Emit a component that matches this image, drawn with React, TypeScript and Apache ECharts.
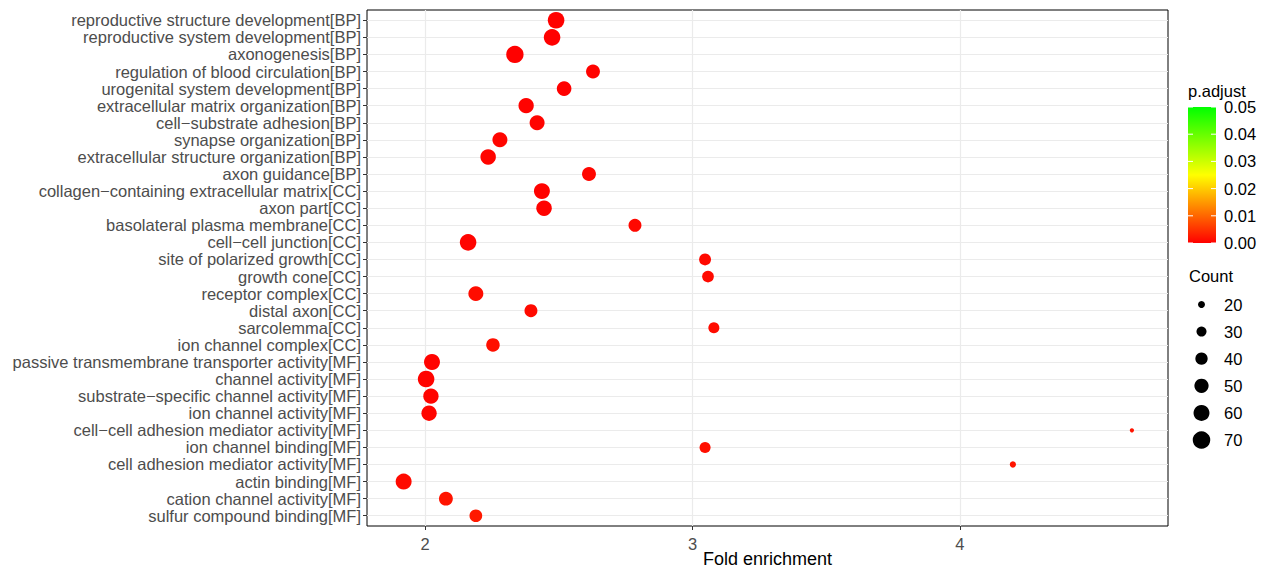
import React, { useEffect, useRef } from 'react';
import * as echarts from 'echarts';

const categories = [
  'reproductive structure development[BP]',
  'reproductive system development[BP]',
  'axonogenesis[BP]',
  'regulation of blood circulation[BP]',
  'urogenital system development[BP]',
  'extracellular matrix organization[BP]',
  'cell\u2212substrate adhesion[BP]',
  'synapse organization[BP]',
  'extracellular structure organization[BP]',
  'axon guidance[BP]',
  'collagen\u2212containing extracellular matrix[CC]',
  'axon part[CC]',
  'basolateral plasma membrane[CC]',
  'cell\u2212cell junction[CC]',
  'site of polarized growth[CC]',
  'growth cone[CC]',
  'receptor complex[CC]',
  'distal axon[CC]',
  'sarcolemma[CC]',
  'ion channel complex[CC]',
  'passive transmembrane transporter activity[MF]',
  'channel activity[MF]',
  'substrate\u2212specific channel activity[MF]',
  'ion channel activity[MF]',
  'cell\u2212cell adhesion mediator activity[MF]',
  'ion channel binding[MF]',
  'cell adhesion mediator activity[MF]',
  'actin binding[MF]',
  'cation channel activity[MF]',
  'sulfur compound binding[MF]',
];

const foldEnrichment = [
  2.49, 2.475, 2.336, 2.628, 2.52, 2.378, 2.419, 2.28, 2.236, 2.613,
  2.437, 2.445, 2.785, 2.161, 3.047, 3.058, 2.19, 2.396, 3.08, 2.254,
  2.026, 2.004, 2.022, 2.015, 4.643, 3.047, 4.198, 1.92, 2.078, 2.19,
];

const counts = [
  64, 64, 69, 48, 52, 56, 54, 54, 57, 48,
  60, 57, 43, 64, 38, 37, 54, 43, 34, 46,
  60, 64, 56, 56, 14, 34, 18, 60, 48, 42,
];

const pAdjust = [
  0.0001, 0.0001, 0.0001, 0.0002, 0.0001, 0.0003, 0.0004, 0.0005, 0.0004, 0.0006,
  0.0002, 0.0003, 0.0008, 0.0004, 0.0009, 0.0010, 0.0012, 0.0010, 0.0012, 0.0015,
  0.0003, 0.0004, 0.0004, 0.0005, 0.0020, 0.0015, 0.0020, 0.0010, 0.0020, 0.0025,
];

const xTicks = [2, 3, 4];
const pAdjustBreaks = [0, 0.01, 0.02, 0.03, 0.04, 0.05];
const countBreaks = [20, 30, 40, 50, 60, 70];

const FONT = '"Liberation Sans", Arial, Helvetica, sans-serif';
const TXT = 16.5;
const sizeOf = (c: number) => Math.sqrt(Math.max(4, 5.15 * c - 54));

export default function App() {
  const ref = useRef<HTMLDivElement>(null);

  useEffect(() => {
    if (!ref.current) return;
    document.body.style.margin = '0';
    const chart = echarts.init(ref.current, undefined, { renderer: 'svg' });

    const data = categories.map((_, i) => [foldEnrichment[i], i + 1, counts[i], pAdjust[i]]);

    // colorbar geometry
    const cbX = 1188, cbTop = 107, cbW = 28, cbH = 136;
    const pMax = pAdjustBreaks[pAdjustBreaks.length - 1];
    const cbY = (v: number) => cbTop + cbH - (v / pMax) * cbH;

    const graphics: any[] = [
      {
        type: 'text', x: cbX, y: 91,
        style: { text: 'p.adjust', font: `${TXT}px ${FONT}`, fill: '#000', verticalAlign: 'middle' },
      },
      {
        type: 'rect', shape: { x: cbX, y: cbTop, width: cbW, height: cbH },
        style: {
          fill: new echarts.graphic.LinearGradient(0, 0, 0, 1, [
            { offset: 0, color: '#00ff00' },
            { offset: 0.5, color: '#ffff00' },
            { offset: 1, color: '#ff0000' },
          ]),
        },
      },
    ];
    pAdjustBreaks.forEach((v) => {
      const y = cbY(v);
      graphics.push({
        type: 'line', shape: { x1: cbX, y1: y, x2: cbX + 5, y2: y },
        style: { stroke: '#fff', lineWidth: 1 },
      });
      graphics.push({
        type: 'line', shape: { x1: cbX + cbW - 5, y1: y, x2: cbX + cbW, y2: y },
        style: { stroke: '#fff', lineWidth: 1 },
      });
      graphics.push({
        type: 'text', x: 1224, y,
        style: { text: v.toFixed(2), font: `${TXT}px ${FONT}`, fill: '#000', verticalAlign: 'middle', align: 'left' },
      });
    });
    graphics.push({
      type: 'text', x: 1189, y: 276,
      style: { text: 'Count', font: `${TXT}px ${FONT}`, fill: '#000', verticalAlign: 'middle' },
    });
    countBreaks.forEach((c, i) => {
      const y = 304.5 + i * 27.1;
      graphics.push({
        type: 'circle', shape: { cx: 1201.5, cy: y, r: sizeOf(c) / 2 },
        style: { fill: '#000' },
      });
      graphics.push({
        type: 'text', x: 1224, y,
        style: { text: String(c), font: `${TXT}px ${FONT}`, fill: '#000', verticalAlign: 'middle', align: 'left' },
      });
    });

    chart.setOption({
      animation: false,
      backgroundColor: '#fff',
      textStyle: { fontFamily: FONT },
      grid: {
        left: 367, width: 801, top: 10, height: 516,
        outerBoundsMode: 'none',
        containLabel: false,
        show: true, borderColor: '#000', borderWidth: 1, backgroundColor: 'transparent',
      },
      xAxis: {
        type: 'value',
        min: 1.783,
        max: 4.778,
        name: 'Fold enrichment',
        nameLocation: 'middle',
        nameGap: 24,
        nameMoveOverlap: false,
        nameTextStyle: { fontSize: 18, color: '#000', fontFamily: FONT, verticalAlign: 'top' },
        axisLine: { show: false },
        axisTick: { show: true, length: 4, customValues: xTicks, lineStyle: { color: '#333' } },
        axisLabel: {
          customValues: xTicks, margin: 9, fontSize: TXT, color: '#4d4d4d', fontFamily: FONT,
          formatter: (v: number) => String(v),
        },
        splitLine: { show: true, lineStyle: { color: '#ebebeb', width: 1.2 } },
      },
      yAxis: {
        type: 'value',
        inverse: true,
        min: 0.4,
        max: categories.length + 0.6,
        axisLine: { show: false },
        axisTick: {
          show: true, length: 4,
          customValues: categories.map((_, i) => i + 1),
          lineStyle: { color: '#333' },
        },
        axisLabel: {
          customValues: categories.map((_, i) => i + 1),
          showMinLabel: true, showMaxLabel: true, hideOverlap: false,
          margin: 6, fontSize: TXT, color: '#4d4d4d', fontFamily: FONT,
          formatter: (v: number) => categories[Math.round(v) - 1] ?? '',
        },
        splitLine: { show: true, lineStyle: { color: '#ebebeb', width: 1.2 } },
      },
      visualMap: {
        type: 'continuous',
        show: false,
        min: 0,
        max: pMax,
        dimension: 3,
        seriesIndex: 0,
        inRange: { color: ['#ff0000', '#ffff00', '#00ff00'] },
      },
      series: [
        {
          type: 'scatter',
          data,
          symbol: 'circle',
          symbolSize: (val: number[]) => sizeOf(val[2]),
          itemStyle: { opacity: 1 },
          z: 3,
        },
      ],
      graphic: graphics,
    });

    return () => chart.dispose();
  }, []);

  return (
    <div
      ref={ref}
      style={{ position: 'fixed', left: 0, top: 0, width: 1266, height: 571, background: '#fff' }}
    />
  );
}
